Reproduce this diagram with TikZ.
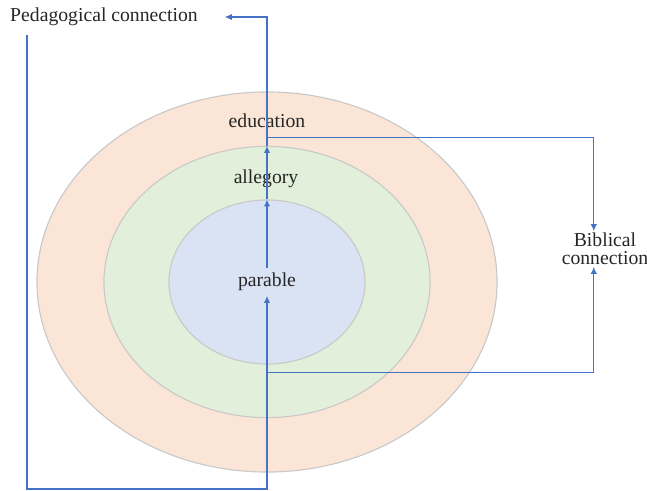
\documentclass[tikz,border=0pt]{standalone}
\usepackage{xcolor}
\usepackage{fontspec}
\setmainfont{Liberation Serif}
\usetikzlibrary{shapes.geometric,arrows.meta,positioning}

\definecolor{edufill}{HTML}{FBE5D6}
\definecolor{allefill}{HTML}{E2EFDA}
\definecolor{parfill}{HTML}{DAE3F3}
\definecolor{linkblue}{HTML}{4472C4}
\definecolor{ringline}{HTML}{C9C9C9}

\begin{document}
\begin{tikzpicture}[x=0.025cm,y=-0.025cm,
      ring/.style={ellipse, draw=ringline, line width=0.8pt, inner sep=0pt},
      word/.style={font=\fontsize{14}{13}\selectfont, text=black!85, align=center},
      link/.style={draw=linkblue, line width=0.9pt, -{Latex[length=5pt,width=4.5pt]}}]
      \useasboundingbox (0,0) rectangle (647,491);
      % rings
      \node[ring, fill=edufill, minimum width=11.5cm, minimum height=9.5cm] (outer) at (267,282) {};
      \node[ring, fill=allefill, minimum width=8.15cm, minimum height=6.78cm] (middle) at (267,282) {};
      \node[ring, fill=parfill, minimum width=4.9cm, minimum height=4.1cm] (inner) at (267,282) {};
      % texts
      \node[word] (edu) at (267,121) {education};
      \node[word] (alle) at (266,179) {allegory};
      \node[word] (par) at (267,282) {parable};
      \node[word] (ped) at (104,17) {Pedagogical connection};
      \node[word, inner sep=1pt] (bib) at (605,249) {Biblical\\connection};
      \coordinate (pedfoot) at (27,35);
      % links
      \draw[link] (pedfoot) -- ++(0,454) -| (par.south);
      \draw[link] (par) -- (inner.north);
      \draw[link] (inner.north) -- (middle.north);
      \draw[link, shorten >=0.55cm] (middle.north) |- (ped.east);
      \draw[link] ([yshift=-0.12cm]edu.south) -| ([xshift=-0.28cm]bib.north);
      \draw[link] ([yshift=-0.2cm]inner.south) -| ([xshift=-0.28cm]bib.south);
\end{tikzpicture}
\end{document}
